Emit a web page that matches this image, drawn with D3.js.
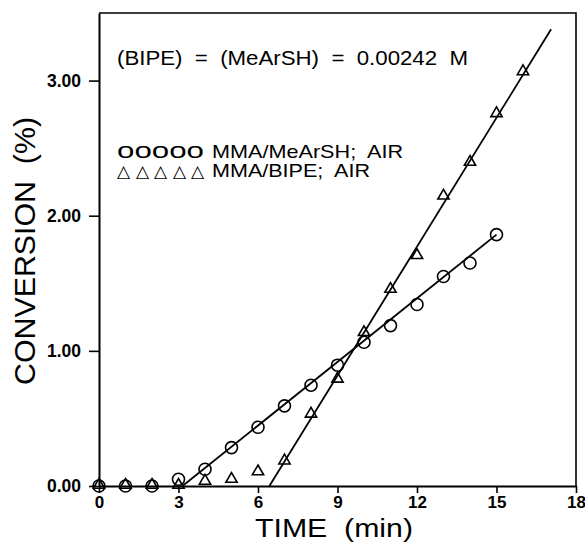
<!DOCTYPE html>
<html><head><meta charset="utf-8">
<script src="https://cdn.jsdelivr.net/npm/d3@7"></script>
<style>
body{margin:0;background:#fff;}
text{font-family:"Liberation Sans",Arial,Helvetica,sans-serif;fill:#000;white-space:pre;}
</style></head>
<body><svg id="c" width="585" height="542"></svg>
<script>
// Data
const timeCircles = [0,1,2,3,4,5,6,7,8,9,10,11,12,13,14,15];
const convMeArSH  = [0,0,0,0.05,0.124,0.284,0.435,0.593,0.746,0.894,1.064,1.187,1.343,1.55,1.65,1.86];
const timeTriangles = [0,1,2,3,4,5,6,7,8,9,10,11,12,13,14,15,16];
const convBIPE      = [0,0,0,0,0.03,0.044,0.1,0.18,0.526,0.785,1.13,1.45,1.70,2.14,2.39,2.75,3.06];
const fitMeArSH = [[3.15,0],[15,1.86]];
const fitBIPE   = [[6.43,0],[17.06,3.38]];
const xTicks = [0,3,6,9,12,15,18];
const yTicks = [0,1,2,3];
const xTitle = "TIME  (min)";
const yTitle = "CONVERSION  (%)";
const note = "(BIPE)  =  (MeArSH)  =  0.00242  M";
const legendLabels = ["MMA/MeArSH;  AIR","MMA/BIPE;  AIR"];

const svg = d3.select("#c");
const x = d3.scaleLinear().domain([0,18]).range([99,576]);
const y = d3.scaleLinear().domain([0,3.5]).range([486,13]);

// frame
svg.append("path").attr("d",`M${x(0)},${y(3.5)}H${x(18)}V${y(0)}`)
  .attr("fill","none").attr("stroke","#000").attr("stroke-width",1.6);

const xa = svg.append("g").attr("transform",`translate(0,${y(0)})`)
  .call(d3.axisBottom(x).tickValues(xTicks).tickSize(7).tickSizeOuter(0).tickPadding(3).tickFormat(d3.format("d")));
const ya = svg.append("g").attr("transform",`translate(${x(0)},0)`)
  .call(d3.axisLeft(y).tickValues(yTicks).tickSize(10).tickSizeOuter(0).tickPadding(8).tickFormat(d3.format(".2f")));
[xa,ya].forEach(g=>{
  g.select(".domain").attr("stroke-width",2);
  g.selectAll(".tick line").attr("stroke-width",1.6);
  g.selectAll("text").attr("font-size",17.5).attr("font-weight","bold").attr("font-family","Liberation Sans, Arial, sans-serif");
});
xa.selectAll("text").attr("font-size",17);

// fit lines
const line = d3.line().x(d=>x(d[0])).y(d=>y(d[1]));
[fitMeArSH,fitBIPE].forEach(f=>svg.append("path").attr("d",line(f))
  .attr("fill","none").attr("stroke","#000").attr("stroke-width",1.8));

// markers
svg.append("g").selectAll("circle").data(timeCircles).join("circle")
  .attr("cx",(d)=>x(d)).attr("cy",(d,i)=>y(convMeArSH[i])).attr("r",6)
  .attr("fill","none").attr("stroke","#000").attr("stroke-width",1.6);
const tri = d3.symbol().type(d3.symbolTriangle).size(55);
svg.append("g").selectAll("path").data(timeTriangles).join("path")
  .attr("transform",(d,i)=>`translate(${x(d)},${y(convBIPE[i])-1})`)
  .attr("d",tri()).attr("fill","none").attr("stroke","#000").attr("stroke-width",1.6);

// titles
svg.append("text").attr("x",334).attr("y",537).attr("text-anchor","middle")
  .attr("font-size",26).attr("textLength",158).attr("lengthAdjust","spacingAndGlyphs").text(xTitle);
svg.append("text").attr("transform","translate(35,251) rotate(-90)").attr("text-anchor","middle")
  .attr("font-size",29).attr("textLength",268).attr("lengthAdjust","spacingAndGlyphs").text(yTitle);

// annotation
svg.append("text").attr("x",117).attr("y",65).attr("font-size",20)
  .attr("textLength",351).attr("lengthAdjust","spacingAndGlyphs").text(note);

// legend
svg.append("text").attr("x",117).attr("y",158).attr("font-size",22)
  .attr("textLength",87).attr("lengthAdjust","spacingAndGlyphs").text("ooooo");
svg.append("text").attr("x",117).attr("y",177).attr("font-size",17).attr("font-family","DejaVu Sans")
  .attr("textLength",87).attr("lengthAdjust","spacing").text("△△△△△");
svg.append("text").attr("x",212).attr("y",158).attr("font-size",19)
  .attr("textLength",191).attr("lengthAdjust","spacingAndGlyphs").text(legendLabels[0]);
svg.append("text").attr("x",212).attr("y",177).attr("font-size",19)
  .attr("textLength",158).attr("lengthAdjust","spacingAndGlyphs").text(legendLabels[1]);
</script></body></html>
